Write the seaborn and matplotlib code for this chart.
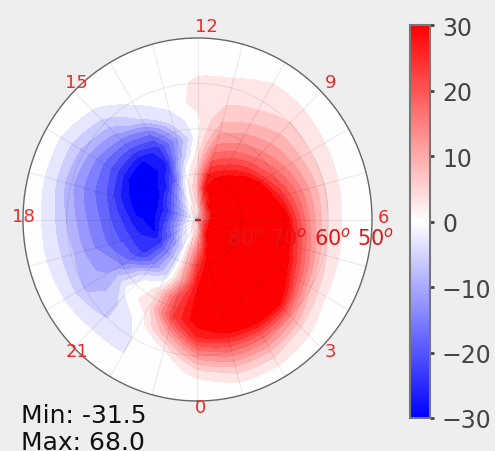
import numpy as np
import matplotlib
matplotlib.use("Agg")
import matplotlib.pyplot as plt
import seaborn as sns
from matplotlib.colors import Normalize
from matplotlib.cm import ScalarMappable

# ---------------- data (potential, kV) ----------------
mlt_hours = list(range(24))
colat_deg = [0, 2, 4, 7, 10, 14, 18, 22, 26, 30, 34, 37, 40]
pole_value = 3.0
#            MLT: 0   1   2   3   4   5   6   7   8   9   10  11  12  13   14   15   16   17   18   19   20   21   22   23
pot_c02 = [5, 10, 16, 20, 22, 22, 21, 20, 18, 15, 12, 8, 3, 3, 2, 0, -3, -4, -3, -2, 0, 1, 2, 3]
pot_c04 = [9, 18, 28, 32, 34, 34, 33, 32, 30, 30, 24, 16, 6, 2.5, -1.5, -6, -10, -12, -11, -9, -6, -3, -2, 3]
pot_c07 = [15, 26, 36, 42, 46, 45, 44, 42, 40, 36, 32, 28, 8, 1.5, -8, -16, -20, -24, -22, -19, -18, -12, -5, 6]
pot_c10 = [22, 31, 44, 54, 60, 58, 55, 50, 44, 35, 30, 26, 6, -0.5, -18, -26, -29, -30, -29.5, -29, -24, -15, -6, 7]
pot_c14 = [27, 38, 52, 62, 68, 64, 58, 46, 36, 27, 22, 18, 3, -8, -26, -30, -31, -31.5, -28, -25, -24, -14, -5, 10]
pot_c18 = [30, 40, 50, 58, 60, 50, 42, 29, 22, 18, 15, 12, 0.5, -12, -24, -29, -29, -26, -22, -20, -17, -3, 2.5, 20]
pot_c22 = [31, 36, 42, 45, 33, 27, 24, 19, 15, 12, 10, 7.5, 0.5, -4, -16, -20, -21, -19, -17, -16, -11, 0, 3, 22]
pot_c26 = [25, 28, 30, 30, 20, 15, 12, 11, 9, 8, 5.5, 4.5, 2.8, -0.8, -4, -12, -15, -15, -13, -12, -10, -5, 0, 10]
pot_c30 = [12, 16, 16, 13, 7, 5, 4, 4.5, 4, 4.5, 3.2, 2.4, 2.2, -0.5, -1.0, -6, -9, -10, -8, -7, -8, -5, -1.6, 0.5]
pot_c34 = [2, 6, 6, 3, 1.2, 0.8, 0.6, 0.8, 1.2, 1.6, 1.7, 0.6, 0.3, 0, -0.3, -1.7, -4, -4, -3, -3, -2.5, -1.7, -1.6, 0.2]
pot_c37 = [0.3, 1.5, 1.5, 0.8, 0.4, 0.3, 0.2, 0.3, 0.4, 0.5, 0.5, 0.3, 0.1, 0, 0, -0.3, -1, -1, -0.8, -0.8, -0.6, -0.4, -0.3, 0]
pot_c40 = [0, 0.3, 0.3, 0.2, 0, 0, 0, 0, 0, 0, 0, 0, 0, 0, 0, 0, 0, 0, 0, 0, 0, 0, 0, 0]

theta_label_hours = [0, 3, 6, 9, 12, 15, 18, 21]
radial_label_colat = [10, 20, 30, 40]
radial_labels = ["80$^o$", "70$^o$", "60$^o$", "50$^o$"]
cbar_ticks = [-30, -20, -10, 0, 10, 20, 30]

# ---------------- style ----------------
sns.set_theme(style="white")
plt.rcParams["font.family"] = ["DejaVu Sans"]
plt.rcParams["axes.unicode_minus"] = True

W, H = 495, 452
fig = plt.figure(figsize=(W / 100, H / 100), dpi=100, facecolor="#eeeeee")

ax = fig.add_axes([23 / W, 1 - 402 / H, 349 / W, 363 / H], projection="polar")
ax.set_aspect("auto")
ax.set_theta_zero_location("S")
ax.set_theta_direction(1)
ax.set_facecolor("white")

rows = [[pole_value] * 24, pot_c02, pot_c04, pot_c07, pot_c10, pot_c14, pot_c18,
        pot_c22, pot_c26, pot_c30, pot_c34, pot_c37, pot_c40]
Z = np.array(rows, dtype=float)
Z = np.hstack([Z, Z[:, :1]])
theta = np.deg2rad(np.append(mlt_hours, 24) * 15.0)
T, R = np.meshgrid(theta, colat_deg)

cmap = sns.color_palette("bwr", as_cmap=True)
norm = Normalize(vmin=-30, vmax=30)
levels = np.arange(-31.5, 31.6, 3.0)
cs = ax.contourf(T, R, Z, levels=levels, cmap=cmap, norm=norm, extend="both", zorder=1)
# draw contour edges as curves in (MLT, colatitude) space on the polar axes
for p in cs.get_paths():
    p._interpolation_steps = 16
cs.set_edgecolor("face")
cs.set_linewidth(0.6)

ax.set_ylim(0, 40)
ax.set_xticks(np.deg2rad(np.arange(0, 360, 15)))
ax.set_xticklabels([])
ax.set_yticks([10, 20, 30])
ax.set_yticklabels([])
ax.set_axisbelow(False)
ax.grid(True, color="black", alpha=0.07, linewidth=0.9)
ax.tick_params(length=0)
ax.spines["polar"].set_color("#666666")
ax.spines["polar"].set_linewidth(1.0)

ax.plot([0], [0], marker="_", color="#e01010", markersize=5, mew=1.2, zorder=3)

for h in theta_label_hours:
    ax.annotate(str(h), xy=(np.deg2rad(h * 15), 42), xytext=(-2.5, -2),
                textcoords="offset pixels", ha="left", va="baseline",
                fontsize=13, color="#ee2a2a", annotation_clip=False)

for c, lbl in zip(radial_label_colat, radial_labels):
    ax.annotate(lbl, xy=(np.pi / 2, c), xytext=(4, -24.5),
                textcoords="offset pixels", ha="center", va="baseline",
                fontsize=15, color="#e01818", annotation_clip=False, zorder=4)

fig.text(21 / W, 1 - 423 / H, f"Min: {Z.min():.1f}", fontsize=18, color="#111111",
         ha="left", va="baseline")
fig.text(21 / W, 1 - 450 / H, f"Max: {Z.max():.1f}", fontsize=18, color="#111111",
         ha="left", va="baseline")

# ---------------- colorbar ----------------
cax = fig.add_axes([409.5 / W, 1 - 419 / H, 20 / W, 393 / H])
sm = ScalarMappable(norm=norm, cmap=cmap)
cb = fig.colorbar(sm, cax=cax, ticks=cbar_ticks)
cb.outline.set_edgecolor("#777777")
cb.outline.set_linewidth(1.5)
cax.tick_params(axis="y", right=True, left=False, labelright=True, labelleft=False,
                direction="out", length=3, width=2, pad=6, labelsize=17,
                color="#444444", labelcolor="#444444")

fig.savefig("out.png", dpi=100, facecolor=fig.get_facecolor())
